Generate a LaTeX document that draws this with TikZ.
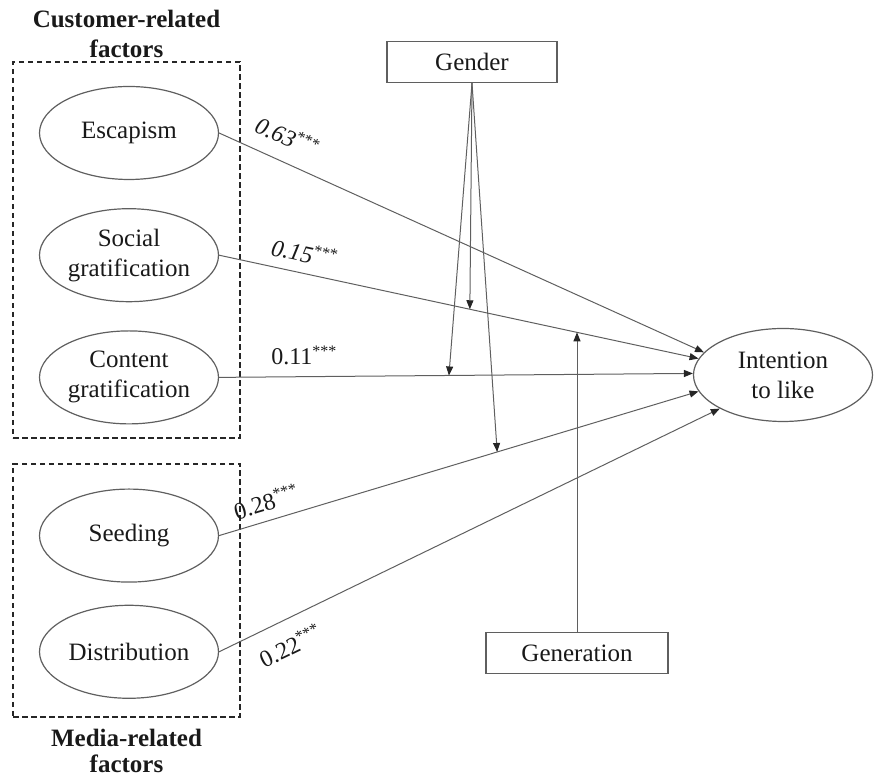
\documentclass[tikz,border=0pt]{standalone}
\usepackage{fontspec}
\setmainfont{Liberation Serif}
\usepackage{tikz}
\usetikzlibrary{shapes.geometric, arrows.meta, positioning, fit}
\definecolor{trazo}{RGB}{95,95,95}
\definecolor{texto}{RGB}{25,25,25}
\tikzset{
  factor/.style={ellipse, draw=trazo, line width=0.6pt, inner sep=0pt,
    minimum width=89.5pt, minimum height=46.5pt, align=center,
    font=\fontsize{12.5}{15}\selectfont, text=texto},
  moderador/.style={rectangle, draw=trazo, line width=0.6pt,
    minimum height=20.5pt, font=\fontsize{12.5}{15}\selectfont, text=texto},
  grupo/.style={rectangle, draw=black!85, line width=0.75pt,
    dash pattern=on 2.75pt off 1.75pt, inner sep=0pt},
  titulo/.style={font=\fontsize{12.5}{15}\selectfont\bfseries, align=center,
    inner sep=0pt, text=texto},
  flecha/.style={-{Triangle[length=4.5pt, width=3.5pt, color=black!85]},
    draw=trazo, line width=0.5pt},
  coef/.style={font=\fontsize{12}{14}\selectfont, inner sep=0pt, text=texto}
}

\begin{document}
\begin{tikzpicture}[x=0.5pt, y=-0.5pt]
  \useasboundingbox (0,0) rectangle (875,779);
  \node[factor] (esc) at (129,133) {Escapism};
  \node[factor, below=14pt of esc] (soc) {Social\\gratification};
  \node[factor, below=14pt of soc] (cont) {Content\\gratification};
  \node[factor, below=32pt of cont] (seed) {Seeding};
  \node[factor, below=11pt of seed] (dist) {Distribution};
  \node[factor] (int) at (783,375) {Intention\\to like};
  \node[moderador, minimum width=85pt] (gen) at (472,62) {Gender};
  \node[moderador, minimum width=91pt] (gener) at (577,653) {Generation};
  \node[grupo, fit={(13,62) (240,438)}] (cliente) {};
  \node[grupo, fit={(13,464) (240,717)}] (medios) {};
  \node[titulo, above=1.5pt of cliente] (tcli) {Customer-related\\factors};
  \node[titulo, font=\fontsize{12.5}{13}\selectfont\bfseries,
    below=5.5pt of medios] (tmed) {Media-related\\factors};
  \draw[flecha] (esc.east) -- node[coef, sloped, above=7.5pt, pos=.12]
    {\textit{0.63}\textsuperscript{***}} (int.164);
  \draw[flecha] (soc.east) -- node[coef, sloped, above=5pt, pos=.17]
    {\textit{0.15}\textsuperscript{***}} coordinate[pos=.523] (mg1)
    coordinate[pos=.746] (mg4) (int.169);
  \draw[flecha] (cont.east) -- node[coef, above=5.5pt, pos=.18]
    {0.11\textsuperscript{***}} coordinate[pos=.485] (mg2) (int.179);
  \draw[flecha] (seed.east) -- node[coef, sloped, above=4.4pt, pos=.11]
    {0.28\textsuperscript{***}} coordinate[pos=.58] (mg3) (int.191);
  \draw[flecha] (dist.east) -- node[coef, sloped, below=7.7pt, pos=.12]
    {0.22\textsuperscript{***}} (int.208);
  \draw[flecha] (gen.south) -- (mg1);
  \draw[flecha] (gen.south) -- (mg2);
  \draw[flecha] (gen.south) -- (mg3);
  \draw[flecha] (gener.north) -- (gener.north |- mg4);
\end{tikzpicture}
\end{document}
